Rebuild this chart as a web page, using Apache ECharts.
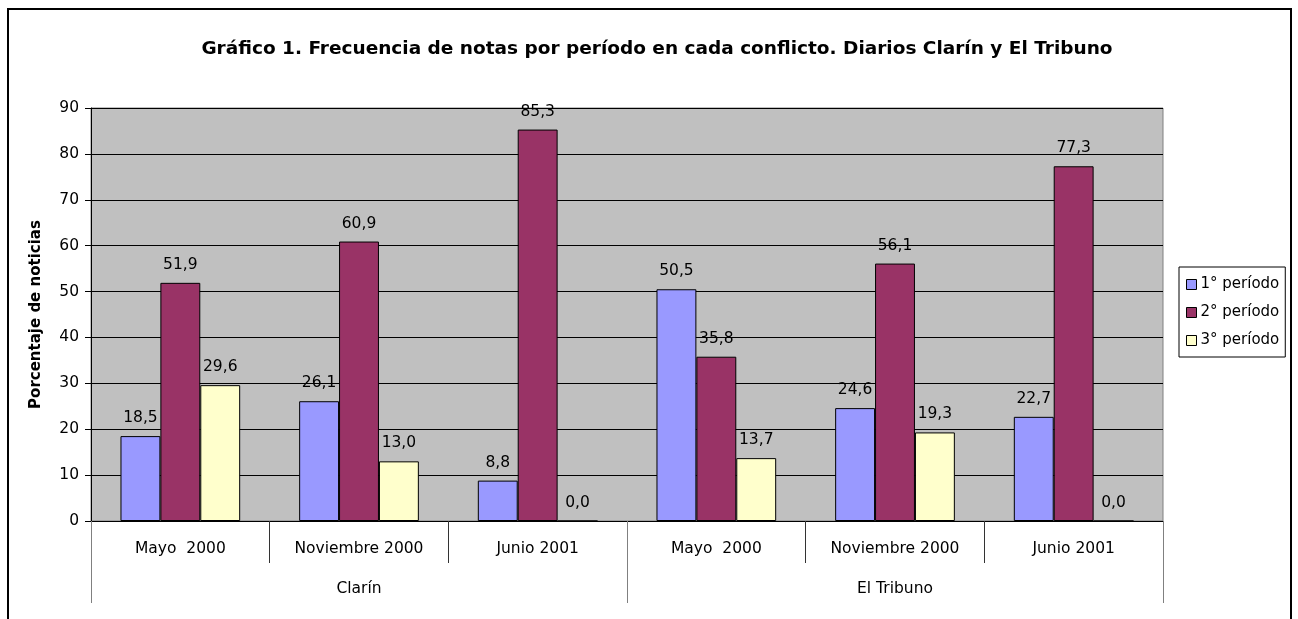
<!DOCTYPE html>
<html>
<head>
<meta charset="utf-8">
<script src="https://cdn.jsdelivr.net/npm/echarts@6/dist/echarts.min.js"></script>
<style>
  html, body { margin: 0; padding: 0; background: #fff; }
  #chart { width: 1298px; height: 619px; }
</style>
</head>
<body>
<div id="chart"></div>
<script>
const periods = ["Mayo  2000", "Noviembre 2000", "Junio 2001", "Mayo  2000", "Noviembre 2000", "Junio 2001"];
const diarios = ["Clarín", "El Tribuno"];
const periodo1 = [18.5, 26.1, 8.8, 50.5, 24.6, 22.7];
const periodo2 = [51.9, 60.9, 85.3, 35.8, 56.1, 77.3];
const periodo3 = [29.6, 13.0, 0.0, 13.7, 19.3, 0.0];
const seriesNames = ["1° período", "2° período", "3° período"];
const seriesColors = ["#9999FF", "#993366", "#FFFFCC"];

const font = "DejaVu Sans, sans-serif";

const makeSeries = (name, data, color) => ({
  name: name,
  type: "bar",
  data: data,
  barGap: 0,
  barCategoryGap: "33%",
  itemStyle: { color: color, borderColor: "#000", borderWidth: 1 },
  label: {
    show: true,
    position: "top",
    distance: 10,
    fontFamily: font,
    fontSize: 15.5,
    color: "#000",
    formatter: (p) => p.value.toFixed(1).replace(".", ","),
  },
});

const chart = echarts.init(document.getElementById("chart"));
chart.setOption({
  animation: false,
  textStyle: { fontFamily: font },
  title: {
    text: "Gráfico 1. Frecuencia de notas por período en cada conflicto. Diarios Clarín y El Tribuno",
    left: 652,
    textAlign: "center",
    top: 35,
    textStyle: { fontFamily: font, fontSize: 18.5, fontWeight: "bold", color: "#000" },
  },
  graphic: [
    {
      type: "rect",
      shape: { x: 8, y: 9, width: 1283, height: 700 },
      style: { fill: "none", stroke: "#000", lineWidth: 2 },
      silent: true,
    },
  ],
  legend: {
    orient: "vertical",
    left: 1179,
    top: 267,
    padding: [10, 6, 9, 7],
    itemGap: 13,
    itemWidth: 10,
    itemHeight: 10,
    borderColor: "#000",
    borderWidth: 1,
    icon: "rect",
    itemStyle: { borderColor: "#000", borderWidth: 1 },
    textStyle: { fontFamily: font, fontSize: 15, color: "#000", padding: [0, 0, 0, -1] },
    data: seriesNames,
  },
  grid: {
    left: 91,
    right: 135,
    top: 108,
    bottom: 98,
    show: true,
    backgroundColor: "#C0C0C0",
    borderColor: "#808080",
    borderWidth: 1,
  },
  xAxis: [
    {
      type: "category",
      data: periods,
      position: "bottom",
      axisLine: { show: true, lineStyle: { color: "#000", width: 1 } },
      axisTick: { show: true, length: 42, interval: 0, lineStyle: { color: "#333" } },
      axisLabel: { interval: 0, margin: 20, fontFamily: font, fontSize: 15.5, color: "#000" },
    },
    {
      type: "category",
      data: diarios,
      position: "bottom",
      offset: 0,
      axisLine: { show: false },
      axisTick: { show: true, length: 82, interval: 0, lineStyle: { color: "#808080" } },
      axisLabel: { interval: 0, margin: 60, fontFamily: font, fontSize: 15.5, color: "#000" },
    },
  ],
  yAxis: {
    type: "value",
    min: 0,
    max: 90,
    interval: 10,
    name: "Porcentaje de noticias",
    nameLocation: "middle",
    nameGap: 47,
    nameTextStyle: { fontFamily: font, fontSize: 15, fontWeight: "bold", color: "#000" },
    axisLine: { show: true, lineStyle: { color: "#000" } },
    axisTick: { show: true, length: 6, lineStyle: { color: "#000" } },
    axisLabel: { margin: 12, fontFamily: font, fontSize: 15.5, color: "#000" },
    splitLine: { show: true, lineStyle: { color: "#000", width: 1 } },
  },
  series: [
    makeSeries(seriesNames[0], periodo1, seriesColors[0]),
    makeSeries(seriesNames[1], periodo2, seriesColors[1]),
    makeSeries(seriesNames[2], periodo3, seriesColors[2]),
  ],
});
</script>
</body>
</html>
